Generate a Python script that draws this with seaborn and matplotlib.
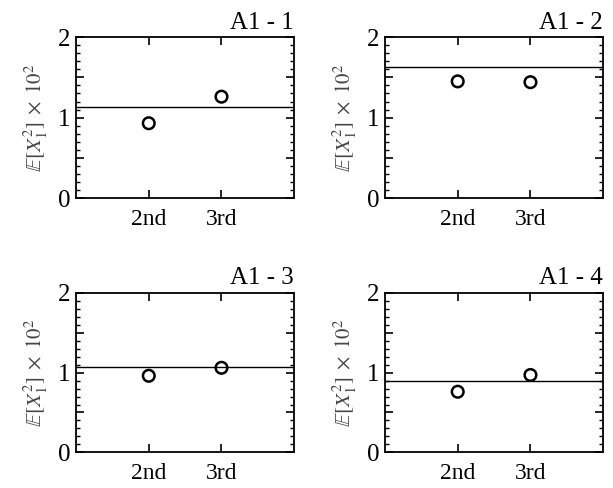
import matplotlib
matplotlib.use("Agg")
import matplotlib.pyplot as plt
import seaborn as sns
import pandas as pd
from matplotlib.ticker import MultipleLocator

sns.set_style("ticks")
plt.rcParams['font.family'] = 'serif'
plt.rcParams['font.serif'] = ['Liberation Serif', 'DejaVu Serif']
plt.rcParams['mathtext.fontset'] = 'stix'
plt.rcParams['text.color'] = 'black'
plt.rcParams['axes.labelcolor'] = 'black'

categories = ["2nd", "3rd"]
titles = ["A1 - 1", "A1 - 2", "A1 - 3", "A1 - 4"]
values_1 = [0.93, 1.26]
values_2 = [1.45, 1.44]
values_3 = [0.96, 1.06]
values_4 = [0.76, 0.97]
reference = [1.13, 1.63, 1.07, 0.89]
yticks = [0, 0.5, 1, 1.5, 2]
ytick_labels = ["0", "", "1", "", "2"]

all_values = [values_1, values_2, values_3, values_4]

fig = plt.figure(figsize=(6.13, 4.88), dpi=100)
boxes = [
    (0.124, 0.594, 0.356, 0.330),
    (0.628, 0.594, 0.356, 0.330),
    (0.124, 0.073, 0.356, 0.327),
    (0.628, 0.073, 0.356, 0.327),
]

for box, vals, ref, title in zip(boxes, all_values, reference, titles):
    ax = fig.add_axes(box)
    df = pd.DataFrame({"cat": categories, "val": vals})
    ax.axhline(ref, color="black", lw=1.0, zorder=1)
    sns.scatterplot(data=df, x="cat", y="val", ax=ax, s=70, marker="o",
                    facecolor="none", edgecolor="black", linewidth=1.8, zorder=3)
    ax.set_xlim(-1, 2)
    ax.set_ylim(0, 2)
    ax.set_yticks(yticks)
    ax.set_yticklabels(ytick_labels)
    ax.yaxis.set_minor_locator(MultipleLocator(0.1))
    ax.set_xlabel("")
    ax.set_ylabel(r"$\mathbb{E}[X_1^2]\;\times\;10^2$", fontsize=15, labelpad=6,
                  color="#444444")
    ax.tick_params(axis="both", which="major", direction="in", top=True, right=True,
                   length=5.5, width=1.2, labelsize=18, pad=4, color="black",
                   labelcolor="black")
    ax.tick_params(axis="y", which="minor", direction="in", left=True, right=True,
                   length=3.2, width=1.0, color="black")
    ax.tick_params(axis="x", labelsize=17, pad=8)
    for sp in ax.spines.values():
        sp.set_linewidth(1.3)
        sp.set_color("black")
    ax.set_title(title, loc="right", fontsize=18, pad=6, color="black")

fig.savefig("out.png", dpi=100)
